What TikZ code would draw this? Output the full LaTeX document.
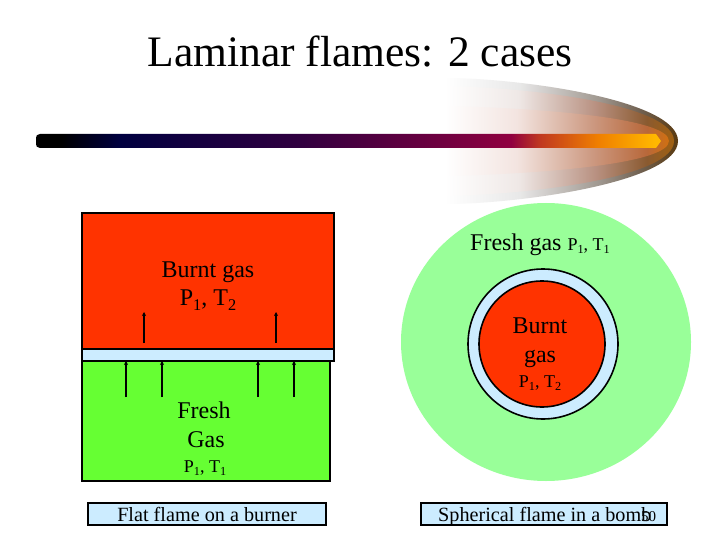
\documentclass[tikz,border=0pt]{standalone}
\usepackage{fontspec}
\setmainfont{Liberation Serif}
\usetikzlibrary{arrows.meta}
\definecolor{burnt}{HTML}{FF3300}
\definecolor{freshg}{HTML}{66FF33}
\definecolor{paleg}{HTML}{99FF99}
\definecolor{paleb}{HTML}{CCECFF}
\definecolor{oa}{HTML}{E8E8E8}\definecolor{ob}{HTML}{A09890}\definecolor{oc}{HTML}{706050}\definecolor{od}{HTML}{5A3A10}
\definecolor{ma}{HTML}{EFE8E6}\definecolor{mb}{HTML}{B89080}\definecolor{mc}{HTML}{8A5A30}\definecolor{md}{HTML}{A06010}
\definecolor{ia}{HTML}{F3E4E0}\definecolor{ib}{HTML}{CC9880}\definecolor{ic}{HTML}{B8683A}\definecolor{id}{HTML}{D07010}
\definecolor{ba}{HTML}{000040}\definecolor{bb}{HTML}{300040}\definecolor{bc}{HTML}{6A0040}\definecolor{bd}{HTML}{900040}\definecolor{be}{HTML}{C03820}\definecolor{bf}{HTML}{F08000}\definecolor{bg}{HTML}{FFB800}
\newcommand{\sbs}[1]{\raisebox{-.22em}{\scalebox{.68}{#1}}}
\newcommand{\fsz}[1]{\fontsize{#1}{#1}\selectfont}
\pgfdeclarehorizontalshading{flameouter}{100bp}{color(0bp)=(white);color(25bp)=(white);color(41bp)=(oa);color(58bp)=(ob);color(67bp)=(oc);color(75bp)=(od);color(100bp)=(od)}
\pgfdeclarehorizontalshading{flamemid}{100bp}{color(0bp)=(white);color(25bp)=(white);color(41bp)=(ma);color(58bp)=(mb);color(69bp)=(mc);color(75bp)=(md);color(100bp)=(md)}
\pgfdeclarehorizontalshading{flameinner}{100bp}{color(0bp)=(white);color(25bp)=(white);color(41bp)=(ia);color(58bp)=(ib);color(70bp)=(ic);color(75bp)=(id);color(100bp)=(id)}
\pgfdeclarehorizontalshading{barshade}{100bp}{color(0bp)=(black);color(25bp)=(black);color(27bp)=(black);color(31.7bp)=(ba);color(46bp)=(bb);color(56.5bp)=(bc);color(63bp)=(bd);color(65.3bp)=(be);color(70bp)=(bf);color(74.5bp)=(bg);color(100bp)=(bg)}
\tikzset{
  big/.style={inner sep=0pt,anchor=base,font=\fsz{24}},
  small/.style={inner sep=0pt,anchor=base,font=\fsz{18}},
  capbox/.style={draw=black,line width=1.5pt,fill=paleb},
  outline/.style={draw=black,line width=1.6pt},
  flowarrow/.style={draw=black,line width=1.2pt,-{Stealth[length=4pt,width=4pt]}},
}
\begin{document}
\begin{tikzpicture}[x=1pt,y=-1pt]
\useasboundingbox (0,0) rectangle (720,540);
\fill[white] (0,0) rectangle (720,540);
% flame swoosh
\shade[shading=flameouter] (445,78) .. controls (520,78) and (678,100) .. (678,141) .. controls (678,182) and (520,204) .. (445,204) -- cycle;
\shade[shading=flamemid] (445,86) .. controls (540,88) and (674,106) .. (674,141) .. controls (674,176) and (540,194) .. (445,196) -- cycle;
\shade[shading=flameinner] (445,106) .. controls (540,108) and (669,118) .. (669,141) .. controls (669,164) and (540,174) .. (445,176) -- cycle;
\shade[shading=barshade] (40,134) -- (656,134) -- (661,141) -- (656,148) -- (40,148) .. controls (37,148) and (36,146) .. (36,144) -- (36,138) .. controls (36,136) and (37,134) .. (40,134) -- cycle;
\node[inner sep=0pt,anchor=base,font=\fsz{43.5}] (title) at (360,67) {Laminar flames: 2 cases};
% left: flat flame
\draw[outline,fill=burnt] (82,213) rectangle (334,349);
\draw[outline,fill=freshg] (82,361) rectangle (330,481);
\draw[outline,fill=paleb] (82,349) rectangle (334,361);
\coordinate (a1s) at (144,343); \coordinate (a1e) at (144,312);
\coordinate (a2s) at (276,343); \coordinate (a2e) at (276,312);
\coordinate (b1s) at (126,397); \coordinate (b1e) at (126,361);
\coordinate (b2s) at (162,397); \coordinate (b2e) at (162,361);
\coordinate (b3s) at (258,397); \coordinate (b3e) at (258,361);
\coordinate (b4s) at (294,397); \coordinate (b4e) at (294,361);
\draw[flowarrow] (a1s) -- (a1e);
\draw[flowarrow] (a2s) -- (a2e);
\draw[flowarrow] (b1s) -- (b1e);
\draw[flowarrow] (b2s) -- (b2e);
\draw[flowarrow] (b3s) -- (b3e);
\draw[flowarrow] (b4s) -- (b4e);
\node[big] (bg1) at (208,277) {Burnt gas};
\node[big] (bg2) at (208,305) {P\sbs{1}, T\sbs{2}};
\node[big] (fg1) at (204,418) {Fresh};
\node[big] (fg2) at (206,447) {Gas};
\node[small] (fg3) at (205,472) {P\sbs{1}, T\sbs{1}};
% right: spherical flame
\fill[paleg] (546,342) ellipse [x radius=145,y radius=139];
\draw[outline,fill=paleb] (543,344) circle [radius=75];
\draw[outline,fill=burnt] (542,344) circle [radius=63];
\node[inner sep=0pt,anchor=base west] (fr) at (470,250) {\fsz{24}Fresh gas \fsz{18}P\sbs{1}, T\sbs{1}};
\node[big] (bu1) at (540,333) {Burnt};
\node[big] (bu2) at (540,362) {gas};
\node[small] (bu3) at (540,387) {P\sbs{1}, T\sbs{2}};
% captions
\node[capbox,minimum width=238pt,minimum height=22pt,inner sep=0pt] (cap1) at (207,514) {};
\node[capbox,minimum width=246pt,minimum height=22pt,inner sep=0pt] (cap2) at (544,514) {};
\node[inner sep=0pt,anchor=base,font=\fsz{20.2}] (t1) at (207,521) {Flat flame on a burner};
\node[inner sep=0pt,anchor=base west,font=\fsz{20.2}] (t2) at (438,521) {Spherical flame in a bomb};
\node[inner sep=0pt,anchor=base west,font=\fsz{15}] (pg) at (641,521) {50};
\end{tikzpicture}
\end{document}
